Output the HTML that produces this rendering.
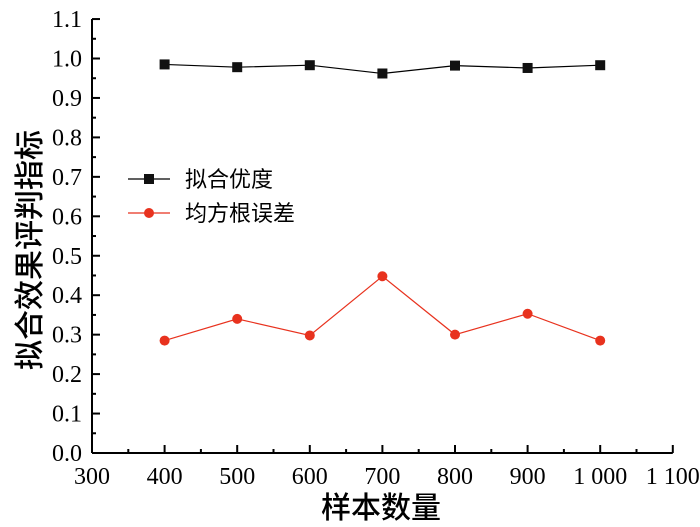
<!DOCTYPE html>
<html><head><meta charset="utf-8"><style>
html,body{margin:0;padding:0;background:#fff;}
svg{display:block;font-family:"Liberation Serif","Noto Serif CJK SC",serif;}
</style></head><body>
<svg id="c" width="700" height="527">
<g id="axes"></g>
<g id="marks"></g>
<g>
<line x1="128" y1="179" x2="170" y2="179" stroke="#000" stroke-width="1.2"/>
<rect x="144" y="174" width="10" height="10" fill="#111"/>
<text x="185" y="187" font-size="22" font-family="Noto Sans CJK SC, sans-serif">拟合优度</text>
<line x1="128" y1="213" x2="170" y2="213" stroke="#e8321e" stroke-width="1.2"/>
<circle cx="149" cy="213" r="5" fill="#e8321e"/>
<text x="185" y="221" font-size="22" font-family="Noto Sans CJK SC, sans-serif">均方根误差</text>
</g>
<text x="381" y="518" text-anchor="middle" font-size="30" font-family="Noto Sans CJK SC, sans-serif" font-weight="500">样本数量</text>
<text transform="translate(40,250) rotate(-90)" text-anchor="middle" font-size="30" font-family="Noto Sans CJK SC, sans-serif" font-weight="500">拟合效果评判指标</text>
</svg>
<script>
const categories=[400,500,600,700,800,900,1000];
const fitValues=[0.985,0.978,0.983,0.962,0.982,0.976,0.983];
const rmseValues=[0.285,0.34,0.298,0.448,0.3,0.353,0.285];
const xTicks=[300,400,500,600,700,800,900,1000,1100];
const xTickLabels=["300","400","500","600","700","800","900","1 000","1 100"];
const yTicks=[0,0.1,0.2,0.3,0.4,0.5,0.6,0.7,0.8,0.9,1.0,1.1];
const NS='http://www.w3.org/2000/svg';
const X=v=>92+(v-300)*0.726;
const Y=v=>453-v*394.5;
function mk(t,a,p){const e=document.createElementNS(NS,t);for(const k in a)e.setAttribute(k,a[k]);p.appendChild(e);return e;}
const ax=document.getElementById('axes'),mg=document.getElementById('marks');
const xa=mk('line',{x1:X(300),y1:Y(0),x2:X(1100),y2:Y(0),stroke:'#000','stroke-width':2},ax);


const ya=mk('line',{x1:X(300),y1:Y(0),x2:X(300),y2:Y(1.1),stroke:'#000','stroke-width':2},ax);


xTicks.forEach((t,i)=>{
 mk('line',{x1:X(t),y1:Y(0),x2:X(t),y2:Y(0)-8,stroke:'#000','stroke-width':2},ax);
 if(i<xTicks.length-1) mk('line',{x1:X(t+50),y1:Y(0),x2:X(t+50),y2:Y(0)-4,stroke:'#000','stroke-width':2},ax);
 const tx=mk('text',{x:X(t),y:484,'text-anchor':'middle','font-size':24},ax);
 tx.textContent=xTickLabels[i];
 
 
});
yTicks.forEach((t,i)=>{
 mk('line',{x1:X(300),y1:Y(t),x2:X(300)+8,y2:Y(t),stroke:'#000','stroke-width':2},ax);
 if(i<yTicks.length-1) mk('line',{x1:X(300),y1:Y(t+0.05),x2:X(300)+4,y2:Y(t+0.05),stroke:'#000','stroke-width':2},ax);
 const tx=mk('text',{x:82,y:Y(t)+8,'text-anchor':'end','font-size':24},ax);
 tx.textContent=t.toFixed(1);
 
 
});
const fl=mk('polyline',{points:categories.map((c,i)=>X(c)+','+Y(fitValues[i])).join(' '),fill:'none',stroke:'#000','stroke-width':1.2},mg);


const rl=mk('polyline',{points:categories.map((c,i)=>X(c)+','+Y(rmseValues[i])).join(' '),fill:'none',stroke:'#e8321e','stroke-width':1.2},mg);


categories.forEach((c,i)=>{
 const r=mk('rect',{x:X(c)-5,y:Y(fitValues[i])-5,width:10,height:10,fill:'#111'},mg);
 
 
 const p=mk('circle',{cx:X(c),cy:Y(rmseValues[i]),r:5,fill:'#e8321e'},mg);
 
 
});
</script>
</body></html>
